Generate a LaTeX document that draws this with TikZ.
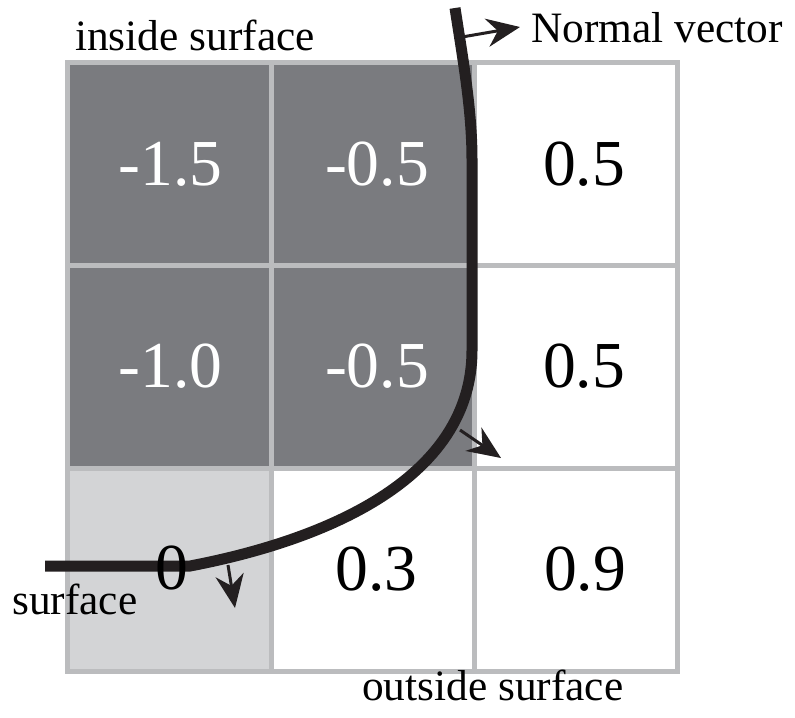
\documentclass[tikz,border=0pt]{standalone}
\usepackage{fontspec}
\setmainfont{Liberation Serif}
\newfontfamily\timesfont{Liberation Serif}
\usetikzlibrary{arrows.meta}
\definecolor{gridgray}{HTML}{BBBCBE}
\definecolor{darkcell}{HTML}{7A7B7F}
\definecolor{lightcell}{HTML}{D3D4D6}
\definecolor{inkblack}{HTML}{231F20}
\tikzset{
  cell/.style={draw=gridgray, line width=0.15cm, minimum size=6.09cm, inner sep=0pt},
  value/.style={font=\timesfont\fontsize{56}{60}\selectfont, inner sep=0pt},
  label/.style={font=\timesfont\fontsize{37}{40}\selectfont, inner sep=0pt, anchor=base west},
  normal/.style={inkblack, line width=0.09cm, -{Stealth[length=1.0cm, width=0.85cm]}}
}
\begin{document}
\begin{tikzpicture}[x=0.03cm, y=-0.03cm]
    \useasboundingbox (0,0) rectangle (795,717);

    % cuadricula de 3x3
    \node[cell, fill=darkcell] (c11) at (169.5,163.5) {};
    \node[cell, fill=darkcell] (c12) at (372.5,163.5) {};
    \node[cell, fill=white] (c13) at (575.5,163.5) {};
    \node[cell, fill=darkcell] (c21) at (169.5,366.5) {};
    \node[cell, fill=darkcell] (c22) at (372.5,366.5) {};
    \node[cell, fill=white] (c23) at (575.5,366.5) {};
    \node[cell, fill=lightcell] (c31) at (169.5,569.5) {};
    \node[cell, fill=white] (c32) at (372.5,569.5) {};
    \node[cell, fill=white] (c33) at (575.5,569.5) {};

    % valores
    \node[value, white] (v11) at (170.5,164.5) {-1.5};
    \node[value, white] (v12) at (377,164.5) {-0.5};
    \node[value] (v13) at (584,164.5) {0.5};
    \node[value, white] (v21) at (170.5,366.5) {-1.0};
    \node[value, white] (v22) at (377,366.5) {-0.5};
    \node[value] (v23) at (584,366.5) {0.5};
    \node[value] (v32) at (376.5,569.5) {0.3};
    \node[value] (v33) at (585,569.5) {0.9};

    % la superficie
    \draw[inkblack, line width=0.33cm] (455,8) .. controls (463,60) and (472,110) .. (472,160)
        -- (472,350) .. controls (472,490) and (300,545) .. (190,566) -- (45,566);
    \node[value] (v31) at (171.5,567.5) {0};

    % vectores normales
    \coordinate (n1) at (462,37);
    \coordinate (t1) at (520,27);
    \coordinate (n2) at (460,430);
    \coordinate (t2) at (501,458);
    \coordinate (n3) at (228,565);
    \coordinate (t3) at (235,608);
    \draw[normal] (n1) -- (t1);
    \draw[normal] (n2) -- (t2);
    \draw[normal] (n3) -- (t3);

    % textos
    \node[label] (normtext) at (531,42) {Normal vector};
    \node[label] (inside) at (75,50) {inside surface};
    \node[label] (surf) at (12,614) {surface};
    \node[label] (outside) at (362,700) {outside surface};
\end{tikzpicture}
\end{document}
